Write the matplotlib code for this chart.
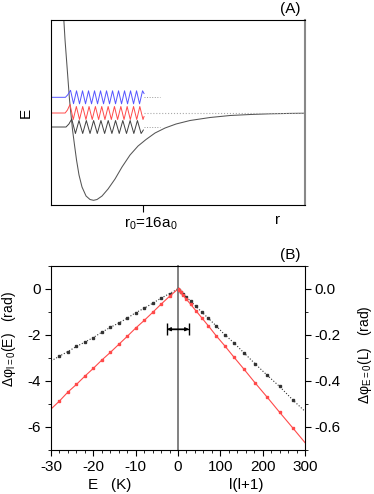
import numpy as np
import matplotlib.pyplot as plt
from matplotlib.ticker import MultipleLocator, FixedLocator, FormatStrFormatter

plt.rcParams['font.family'] = ['Liberation Sans', 'DejaVu Sans']
plt.rcParams['mathtext.fontset'] = 'custom'
plt.rcParams['mathtext.rm'] = 'Liberation Sans'
plt.rcParams['mathtext.it'] = 'Liberation Sans:italic'
plt.rcParams['axes.unicode_minus'] = False
plt.rcParams['font.size'] = 11

# ---- panel (A): potential curve (r in a0, E arbitrary) ----
pot_r = [2.17, 2.43, 2.69, 2.95, 3.21, 3.47, 3.73, 4.07, 4.42, 4.85, 5.37, 6.07, 6.76, 7.37,
         7.97, 8.84, 9.88, 11.09, 12.30, 13.69, 15.08, 16.46, 18.02, 19.76, 21.66, 24.08,
         27.55, 31.02, 34.48, 37.95, 41.42, 44.0]
pot_E = [9.8, 7.3, 5.3, 3.3, 1.3, -0.2, -1.7, -3.2, -4.7, -6.2, -7.4, -8.3, -8.65, -8.73,
         -8.65, -8.3, -7.6, -6.6, -5.4, -4.2, -3.3, -2.65, -2.0, -1.5, -1.1, -0.75,
         -0.45, -0.25, -0.15, -0.08, -0.04, -0.02]

# wavefunctions drawn on their energy levels
blue_level, red_level, black_level = 1.57, 0.0, -1.4
wave_end_r = 16.1
dots_end_r = 18.9
r0 = 16

blue_r = [0, 2.5, 2.9, 3.38, 3.90, 4.42, 4.94, 5.46, 5.98, 6.50, 7.02, 7.54, 8.06, 8.58, 9.10,
          9.62, 10.14, 10.66, 11.18, 11.70, 12.22, 12.74, 13.26, 13.78, 14.30, 14.82, 15.34,
          15.86, 16.12]
blue_E = [1.57, 1.57, 1.82, 2.27, 0.93, 2.22, 0.92, 2.22, 0.92, 2.22, 0.92, 2.22, 0.92, 2.22,
          0.92, 2.22, 0.92, 2.22, 0.92, 2.22, 0.92, 2.22, 0.92, 2.22, 0.92, 2.22, 0.92,
          2.22, 1.95]

red_r = [0, 2.45, 2.85, 3.29, 3.85, 4.39, 4.94, 5.49, 6.05, 6.59, 7.14, 7.69, 8.25, 8.79, 9.34,
         9.90, 10.45, 10.99, 11.54, 12.10, 12.65, 13.19, 13.74, 14.30, 14.85, 15.39, 15.94,
         16.12]
red_E = [0.0, 0.0, 0.3, 0.85, -0.65, 0.65, -0.65, 0.65, -0.65, 0.65, -0.65, 0.65, -0.65, 0.65,
         -0.65, 0.65, -0.65, 0.65, -0.65, 0.65, -0.65, 0.65, -0.65, 0.65, -0.65, 0.65, -0.65,
         -0.35]

black_r = [0, 2.6, 3.1, 3.59, 4.23, 4.85, 5.49, 6.12, 6.76, 7.38, 8.02, 8.65, 9.29, 9.91,
           10.55, 11.18, 11.82, 12.44, 13.08, 13.71, 14.35, 14.97, 15.61, 16.0]
black_E = [-1.4, -1.4, -1.1, -0.6, -2.05, -0.75, -2.05, -0.75, -2.05, -0.75, -2.05, -0.75,
           -2.05, -0.75, -2.05, -0.75, -2.05, -0.75, -2.05, -0.75, -2.05, -0.75, -2.05, -1.7]

# ---- panel (B): phase shifts ----
E_vals = [-30, -28, -26, -24, -22, -20, -18, -16, -14, -12, -10, -8, -6, -4, -2, 0]
dphi_E_black = [-3.13, -2.92, -2.72, -2.50, -2.31, -2.11, -1.88, -1.67, -1.48, -1.27, -1.03,
                -0.84, -0.62, -0.40, -0.20, 0.0]
dphi_E_red = [-5.22, -4.87, -4.48, -4.15, -3.79, -3.45, -3.09, -2.76, -2.41, -2.06, -1.70,
              -1.37, -1.02, -0.66, -0.32, 0.0]

L_vals = [0, 2, 6, 12, 20, 30, 42, 56, 72, 90, 110, 132, 156, 182, 210, 240, 272, 300]
dphi_L_black = [0, -0.004, -0.011, -0.021, -0.036, -0.053, -0.075, -0.100, -0.128, -0.160,
                -0.198, -0.234, -0.278, -0.325, -0.374, -0.424, -0.484, -0.532]
dphi_L_red = [0, -0.005, -0.013, -0.027, -0.045, -0.067, -0.094, -0.125, -0.161, -0.203,
              -0.246, -0.296, -0.349, -0.408, -0.469, -0.536, -0.606, -0.668]

bar_x, bar_y, bar_half = 0.0, -1.75, 2.6

blue_c = '#5555ff'
red_c = '#ff4a4a'
dark = '#404040'

fig = plt.figure(figsize=(3.74, 4.94), dpi=100)

# Panel A
ax_a = fig.add_axes([0.1364, 0.585, 0.679, 0.3745])
ax_a.plot(pot_r, pot_E, color='#555555', lw=0.75)
ax_a.plot([wave_end_r, 44], [red_level, red_level], ls=':', color='#aaaaaa', lw=0.8)
ax_a.plot([wave_end_r, dots_end_r], [blue_level, blue_level], ls=':', color='#999999', lw=0.7)
ax_a.plot([wave_end_r, dots_end_r], [black_level, black_level], ls=':', color='#999999', lw=0.7)
ax_a.plot(blue_r, blue_E, color=blue_c, lw=0.7)
ax_a.plot(red_r, red_E, color=red_c, lw=0.7)
ax_a.plot(black_r, black_E, color=dark, lw=0.7)
ax_a.set_xlim(0, 44)
ax_a.set_ylim(-9.2, 9.3)
ax_a.set_yticks([])
ax_a.set_xticks([r0])
ax_a.set_xticklabels([''])
ax_a.tick_params(axis='x', direction='out', length=5, width=0.8)
for s in ['left', 'top', 'bottom']:
    ax_a.spines[s].set_linewidth(0.8)
ax_a.spines['right'].set_color('#888888')
ax_a.spines['right'].set_linewidth(1.5)
ax_a.set_ylabel('E')
ax_a.yaxis.set_label_coords(-0.07, 0.5)
ax_a.annotate(r'r$_0$=16a$_0$', xy=(r0, 0), xycoords=('data', 'axes fraction'),
              xytext=(5.5, -7.5), textcoords='offset points', ha='center', va='top')
ax_a.text(0.894, -0.045, 'r', transform=ax_a.transAxes, ha='center', va='top')
fig.text(0.775, 0.982, '(A)', ha='center', va='center')

# Panel B
ax_l = fig.add_axes([0.1364, 0.0891, 0.3396, 0.3725])
ax_r = fig.add_axes([0.4759, 0.0891, 0.3396, 0.3725])
ax_r.set_facecolor('none')

ax_l.plot(E_vals, dphi_E_black, ls=':', color='#333333', lw=0.8, marker='s', ms=1.8,
          markevery=slice(1, None))
ax_l.plot(E_vals, dphi_E_red, ls='-', color=red_c, lw=0.8, marker='s', ms=1.9,
          markevery=slice(1, None))
ax_r.plot(L_vals, dphi_L_black, ls=':', color='#333333', lw=0.8, marker='s', ms=1.8,
          markevery=slice(0, -1))
ax_r.plot(L_vals, dphi_L_red, ls='-', color=red_c, lw=0.8, marker='s', ms=1.9,
          markevery=slice(0, -1))

ax_l.set_xlim(-30, 0)
ax_l.set_ylim(-7, 1)
ax_r.set_xlim(0, 300)
ax_r.set_ylim(-0.7, 0.1)

ax_l.xaxis.set_major_locator(FixedLocator([-30, -20, -10, 0]))
ax_l.xaxis.set_minor_locator(MultipleLocator(2))
ax_l.yaxis.set_major_locator(FixedLocator([0, -2, -4, -6]))
ax_l.yaxis.set_minor_locator(MultipleLocator(1))
ax_r.xaxis.set_major_locator(FixedLocator([100, 200, 300]))
ax_r.xaxis.set_minor_locator(MultipleLocator(20))
ax_r.yaxis.tick_right()
ax_r.yaxis.set_label_position('right')
ax_r.yaxis.set_major_locator(FixedLocator([0, -0.2, -0.4, -0.6]))
ax_r.yaxis.set_major_formatter(FormatStrFormatter('%.1f'))
ax_r.yaxis.set_minor_locator(MultipleLocator(0.1))

for ax in (ax_l, ax_r):
    ax.tick_params(which='major', direction='out', length=4, width=0.8, pad=3)
    ax.tick_params(which='minor', direction='out', length=2, width=0.6)
    for s in ax.spines.values():
        s.set_linewidth(0.8)
ax_l.spines['right'].set_color('#777777')
ax_l.spines['right'].set_linewidth(1.3)
ax_r.spines['left'].set_visible(False)

ax_l.errorbar([bar_x], [bar_y], xerr=[bar_half], fmt='none', ecolor='k', elinewidth=1.0,
              capsize=4.5, capthick=1.0, clip_on=False, zorder=5)
ax_l.annotate('', xy=(bar_x - bar_half, bar_y), xytext=(bar_x + bar_half, bar_y),
              arrowprops=dict(arrowstyle='<|-|>', mutation_scale=5, color='k', lw=1.0,
                              shrinkA=0, shrinkB=0),
              annotation_clip=False)

ax_l.set_ylabel(r'Δφ$_{\rm l=0}$(E)   (rad)', fontsize=10)
ax_l.yaxis.set_label_coords(-0.26, 0.6)
ax_r.set_ylabel(r'Δφ$_{\rm E=0}$(L)   (rad)', fontsize=10)
ax_r.yaxis.set_label_coords(1.40, 0.52)
ax_l.text(0.465, -0.19, 'E   (K)', transform=ax_l.transAxes, ha='center', va='center')
ax_r.text(0.535, -0.19, 'l(l+1)', transform=ax_r.transAxes, ha='center', va='center')
fig.text(0.775, 0.484, '(B)', ha='center', va='center')

plt.savefig('out.png', dpi=100)
